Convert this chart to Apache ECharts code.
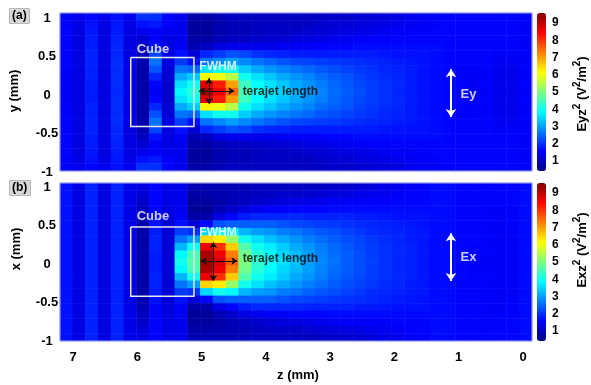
<!DOCTYPE html>
<html>
<head>
<meta charset="utf-8">
<script src="https://cdn.jsdelivr.net/npm/echarts@6/dist/echarts.min.js"></script>
<style>html,body{margin:0;padding:0;background:#fff}#c{width:591px;height:385px}</style>
</head>
<body>
<div id="c"></div>
<script>
// ---- data ----
const zCenters = [7.10,6.90,6.70,6.50,6.31,6.11,5.91,5.71,5.51,5.31,5.12,4.92,4.72,4.52,4.32,4.12,3.93,3.73,3.53,3.33,3.13,2.93,2.73,2.54,2.34,2.14,1.94,1.74,1.54,1.35,1.15,0.95,0.75,0.55,0.36,0.16,-0.04];
const yCenters = [0.99,0.89,0.79,0.69,0.59,0.50,0.40,0.30,0.20,0.10,0,-0.10,-0.20,-0.30,-0.40,-0.50,-0.59,-0.69,-0.79,-0.89,-0.99];
const zTickLabels = [0,1,2,3,4,5,6,7];
const yTickLabels = [-1,-0.5,0,0.5,1];
const colorTicks = [1,2,3,4,5,6,7,8,9];
const colorMin = 0.42, colorMax = 9.58;

// Panel (a): Eyz^2, rows from y=+0.99 (top) to y=-0.99 (bottom), columns z=7.1 ... -0.04
const eyzRows = [
[1.5,1.4,1.6,1.4,1.7,1.4,2.0,2.0,1.6,1.4,0.8,0.8,0.9,1.0,1.0, 1.0,1.0,1.0,1.0,1.0,1.05,1.1,1.1,1.15,1.2,1.25,1.3,1.4,1.45,1.5,1.55,1.6,1.6,1.6,1.6,1.6,1.55],
[1.55,1.35,1.7,1.35,1.75,1.35,1.7,1.8,1.5,1.4,0.7,0.7,0.85,0.95,0.95, 1.0,1.0,1.0,1.0,1.05,1.1,1.15,1.2,1.25,1.3,1.35,1.4,1.45,1.5,1.55,1.6,1.6,1.6,1.6,1.6,1.6,1.55],
[1.6,1.3,1.75,1.3,1.8,1.3,1.4,1.5,1.4,1.4,0.7,0.7,0.85,0.95,0.95, 1.0,1.05,1.05,1.1,1.15,1.2,1.25,1.3,1.35,1.4,1.45,1.5,1.5,1.55,1.6,1.6,1.6,1.6,1.6,1.6,1.6,1.55],
[1.6,1.3,1.8,1.3,1.85,1.3,1.2,1.5,1.3,1.4,0.75,0.75,0.9,1.0,1.05, 1.1,1.15,1.2,1.25,1.3,1.35,1.4,1.45,1.5,1.55,1.55,1.6,1.6,1.6,1.6,1.6,1.6,1.6,1.6,1.6,1.6,1.55],
[1.6,1.3,1.8,1.3,1.9,1.3,1.0,1.7,1.3,1.5,0.9,1.0,1.3,1.4,1.4, 1.4,1.4,1.45,1.5,1.5,1.55,1.6,1.6,1.65,1.65,1.65,1.65,1.65,1.65,1.65,1.6,1.6,1.6,1.6,1.6,1.6,1.55],
[1.6,1.3,1.85,1.3,1.9,1.3,0.9,2.2,1.3,1.7,1.2,1.9,2.1,2.3,2.2, 2.0,1.9,1.85,1.8,1.8,1.8,1.8,1.8,1.8,1.8,1.75,1.7,1.7,1.7,1.65,1.6,1.6,1.6,1.6,1.5,1.5,1.55],
[1.55,1.3,1.85,1.3,1.95,1.35,0.85,2.6,1.3,2.1,1.7,2.6,2.8,3.0,2.8, 2.6,2.45,2.3,2.2,2.15,2.1,2.05,2.0,1.95,1.9,1.85,1.8,1.75,1.7,1.65,1.6,1.6,1.6,1.55,1.45,1.45,1.55],
[1.55,1.3,1.85,1.3,1.95,1.35,0.8,2.3,1.2,2.6,2.5,3.6,4.0,4.0,3.4, 3.1,2.9,2.75,2.6,2.5,2.35,2.25,2.15,2.05,2.0,1.9,1.85,1.8,1.7,1.65,1.6,1.55,1.55,1.55,1.4,1.4,1.55],
[1.5,1.3,1.85,1.3,1.95,1.35,0.8,1.9,1.15,3.1,3.4,6.2,6.0,5.5,4.0, 3.6,3.35,3.1,2.9,2.75,2.55,2.4,2.3,2.15,2.05,1.95,1.9,1.8,1.7,1.65,1.6,1.55,1.5,1.55,1.4,1.4,1.55],
[1.5,1.3,1.8,1.3,1.95,1.35,0.8,1.6,1.1,3.6,4.0,8.7,8.2,7.0,4.4, 3.9,3.6,3.35,3.1,2.9,2.7,2.5,2.35,2.2,2.1,2.0,1.9,1.8,1.7,1.65,1.6,1.55,1.45,1.55,1.4,1.4,1.55],
[1.5,1.3,1.8,1.3,1.9,1.35,0.8,1.5,1.1,3.8,4.2,9.3,8.6,7.5,4.5, 4.0,3.7,3.45,3.2,2.95,2.75,2.55,2.4,2.25,2.1,2.0,1.9,1.8,1.7,1.65,1.6,1.55,1.45,1.55,1.4,1.4,1.55],
[1.5,1.3,1.8,1.3,1.95,1.35,0.8,1.6,1.1,3.6,4.0,8.7,8.2,7.0,4.4, 3.9,3.6,3.35,3.1,2.9,2.7,2.5,2.35,2.2,2.1,2.0,1.9,1.8,1.7,1.65,1.6,1.55,1.45,1.55,1.4,1.4,1.55],
[1.5,1.3,1.85,1.3,1.95,1.35,0.8,1.9,1.15,3.1,3.4,6.2,6.0,5.5,4.0, 3.6,3.35,3.1,2.9,2.75,2.55,2.4,2.3,2.15,2.05,1.95,1.9,1.8,1.7,1.65,1.6,1.55,1.5,1.55,1.4,1.4,1.55],
[1.55,1.3,1.85,1.3,1.95,1.35,0.8,2.3,1.2,2.6,2.5,3.6,4.0,4.0,3.4, 3.1,2.9,2.75,2.6,2.5,2.35,2.25,2.15,2.05,2.0,1.9,1.85,1.8,1.7,1.65,1.6,1.55,1.55,1.55,1.4,1.4,1.55],
[1.55,1.3,1.85,1.3,1.95,1.35,0.85,2.6,1.3,2.1,1.7,2.6,2.8,3.0,2.8, 2.6,2.45,2.3,2.2,2.15,2.1,2.05,2.0,1.95,1.9,1.85,1.8,1.75,1.7,1.65,1.6,1.6,1.6,1.55,1.45,1.45,1.55],
[1.6,1.3,1.85,1.3,1.9,1.3,0.9,2.2,1.3,1.7,1.2,1.9,2.1,2.3,2.2, 2.0,1.9,1.85,1.8,1.8,1.8,1.8,1.8,1.8,1.8,1.75,1.7,1.7,1.7,1.65,1.6,1.6,1.6,1.6,1.5,1.5,1.55],
[1.6,1.3,1.8,1.3,1.9,1.3,1.0,1.7,1.3,1.5,0.9,1.0,1.3,1.4,1.4, 1.4,1.4,1.45,1.5,1.5,1.55,1.6,1.6,1.65,1.65,1.65,1.65,1.65,1.65,1.65,1.6,1.6,1.6,1.6,1.6,1.6,1.55],
[1.6,1.3,1.8,1.3,1.85,1.3,1.2,1.5,1.3,1.4,0.75,0.75,0.9,1.0,1.05, 1.1,1.15,1.2,1.25,1.3,1.35,1.4,1.45,1.5,1.55,1.55,1.6,1.6,1.6,1.6,1.6,1.6,1.6,1.6,1.6,1.6,1.55],
[1.6,1.3,1.75,1.3,1.8,1.3,1.4,1.5,1.4,1.4,0.7,0.7,0.85,0.95,0.95, 1.0,1.05,1.05,1.1,1.15,1.2,1.25,1.3,1.35,1.4,1.45,1.5,1.5,1.55,1.6,1.6,1.6,1.6,1.6,1.6,1.6,1.55],
[1.55,1.35,1.7,1.35,1.75,1.35,1.7,1.8,1.5,1.4,0.7,0.7,0.85,0.95,0.95, 1.0,1.0,1.0,1.0,1.05,1.1,1.15,1.2,1.25,1.3,1.35,1.4,1.45,1.5,1.55,1.6,1.6,1.6,1.6,1.6,1.6,1.55],
[1.5,1.4,1.6,1.4,1.7,1.4,2.0,2.0,1.6,1.4,0.8,0.8,0.9,1.0,1.0, 1.0,1.0,1.0,1.0,1.0,1.05,1.1,1.1,1.15,1.2,1.25,1.3,1.4,1.45,1.5,1.55,1.6,1.6,1.6,1.6,1.6,1.55]
];

// Panel (b): Exz^2, rows from x=+0.99 (top) to x=-0.99 (bottom), columns z=7.1 ... -0.04
const exzRows = [
[1.7,1.35,1.85,1.3,1.85,1.35,1.3,1.6,1.35,1.4,0.9,0.9,0.9,0.9,0.95, 1.0,1.0,1.0,1.0,1.0,1.05,1.1,1.15,1.2,1.25,1.35,1.4,1.5,1.55,1.65,1.65,1.6,1.6,1.55,1.6,1.6,1.65],
[1.7,1.3,1.85,1.3,1.85,1.35,1.2,1.6,1.35,1.4,0.8,0.8,0.85,0.9,0.95, 1.0,1.05,1.1,1.1,1.15,1.2,1.25,1.3,1.35,1.4,1.45,1.5,1.55,1.6,1.65,1.65,1.6,1.6,1.55,1.6,1.6,1.65],
[1.7,1.3,1.85,1.3,1.85,1.35,1.1,1.6,1.35,1.4,0.7,0.7,0.8,0.95,1.0, 1.1,1.2,1.25,1.3,1.35,1.4,1.45,1.5,1.5,1.55,1.55,1.6,1.6,1.6,1.65,1.65,1.6,1.6,1.55,1.55,1.6,1.65],
[1.7,1.3,1.85,1.3,1.85,1.35,1.0,1.6,1.3,1.45,0.65,0.65,0.9,1.1,1.3, 1.4,1.5,1.5,1.6,1.6,1.6,1.65,1.65,1.65,1.65,1.65,1.65,1.65,1.65,1.65,1.65,1.6,1.6,1.55,1.55,1.55,1.65],
[1.7,1.3,1.85,1.3,1.85,1.35,0.9,1.6,1.25,1.5,0.8,0.8,1.3,1.6,1.8, 1.9,1.9,1.9,1.9,1.85,1.85,1.85,1.85,1.8,1.8,1.75,1.7,1.7,1.7,1.65,1.65,1.6,1.6,1.55,1.5,1.55,1.65],
[1.7,1.3,1.85,1.3,1.85,1.35,0.85,1.7,1.2,1.7,1.2,1.6,2.3,2.4,2.4, 2.4,2.4,2.3,2.2,2.15,2.1,2.05,2.0,1.95,1.9,1.85,1.8,1.75,1.7,1.65,1.65,1.6,1.6,1.55,1.5,1.55,1.65],
[1.7,1.3,1.85,1.3,1.85,1.35,0.8,1.8,1.2,2.1,2.0,3.5,4.0,3.8,3.2, 3.0,2.9,2.7,2.6,2.45,2.35,2.25,2.15,2.05,1.95,1.9,1.85,1.8,1.75,1.65,1.65,1.6,1.6,1.55,1.5,1.5,1.65],
[1.7,1.3,1.85,1.3,1.85,1.35,0.8,1.85,1.2,2.6,3.0,6.5,6.3,5.2,4.0, 3.6,3.3,3.1,2.9,2.7,2.55,2.4,2.25,2.15,2.05,1.95,1.9,1.8,1.75,1.65,1.65,1.6,1.6,1.55,1.5,1.5,1.65],
[1.7,1.3,1.85,1.3,1.85,1.35,0.8,1.85,1.2,3.2,4.0,8.6,8.0,6.6,4.6, 4.0,3.7,3.4,3.1,2.9,2.7,2.5,2.35,2.2,2.1,2.0,1.9,1.85,1.75,1.65,1.65,1.6,1.55,1.55,1.5,1.5,1.65],
[1.7,1.3,1.85,1.3,1.85,1.35,0.8,1.8,1.2,3.8,4.5,9.2,8.6,7.3,4.9, 4.2,3.85,3.5,3.25,3.0,2.75,2.55,2.4,2.25,2.1,2.0,1.9,1.85,1.75,1.65,1.65,1.6,1.55,1.55,1.5,1.5,1.65],
[1.7,1.3,1.85,1.3,1.85,1.35,0.8,1.8,1.2,4.0,4.6,9.3,8.8,7.6,5.0, 4.3,3.9,3.6,3.3,3.0,2.8,2.6,2.4,2.25,2.15,2.0,1.9,1.85,1.75,1.65,1.65,1.6,1.55,1.55,1.5,1.5,1.65],
[1.7,1.3,1.85,1.3,1.85,1.35,0.8,1.8,1.2,3.8,4.5,9.2,8.6,7.3,4.9, 4.2,3.85,3.5,3.25,3.0,2.75,2.55,2.4,2.25,2.1,2.0,1.9,1.85,1.75,1.65,1.65,1.6,1.55,1.55,1.5,1.5,1.65],
[1.7,1.3,1.85,1.3,1.85,1.35,0.8,1.85,1.2,3.2,4.0,8.6,8.0,6.6,4.6, 4.0,3.7,3.4,3.1,2.9,2.7,2.5,2.35,2.2,2.1,2.0,1.9,1.85,1.75,1.65,1.65,1.6,1.55,1.55,1.5,1.5,1.65],
[1.7,1.3,1.85,1.3,1.85,1.35,0.8,1.85,1.2,2.6,3.0,6.5,6.3,5.2,4.0, 3.6,3.3,3.1,2.9,2.7,2.55,2.4,2.25,2.15,2.05,1.95,1.9,1.8,1.75,1.65,1.65,1.6,1.6,1.55,1.5,1.5,1.65],
[1.7,1.3,1.85,1.3,1.85,1.35,0.8,1.8,1.2,2.1,2.0,3.5,4.0,3.8,3.2, 3.0,2.9,2.7,2.6,2.45,2.35,2.25,2.15,2.05,1.95,1.9,1.85,1.8,1.75,1.65,1.65,1.6,1.6,1.55,1.5,1.5,1.65],
[1.7,1.3,1.85,1.3,1.85,1.35,0.85,1.7,1.2,1.7,1.2,1.6,2.3,2.4,2.4, 2.4,2.4,2.3,2.2,2.15,2.1,2.05,2.0,1.95,1.9,1.85,1.8,1.75,1.7,1.65,1.65,1.6,1.6,1.55,1.5,1.55,1.65],
[1.7,1.3,1.85,1.3,1.85,1.35,0.9,1.6,1.25,1.5,0.8,0.8,1.3,1.6,1.8, 1.9,1.9,1.9,1.9,1.85,1.85,1.85,1.85,1.8,1.8,1.75,1.7,1.7,1.7,1.65,1.65,1.6,1.6,1.55,1.5,1.55,1.65],
[1.7,1.3,1.85,1.3,1.85,1.35,1.0,1.6,1.3,1.45,0.65,0.65,0.9,1.1,1.3, 1.4,1.5,1.5,1.6,1.6,1.6,1.65,1.65,1.65,1.65,1.65,1.65,1.65,1.65,1.65,1.65,1.6,1.6,1.55,1.55,1.55,1.65],
[1.7,1.3,1.85,1.3,1.85,1.35,1.1,1.6,1.35,1.4,0.7,0.7,0.8,0.95,1.0, 1.1,1.2,1.25,1.3,1.35,1.4,1.45,1.5,1.5,1.55,1.55,1.6,1.6,1.6,1.65,1.65,1.6,1.6,1.55,1.55,1.6,1.65],
[1.7,1.3,1.85,1.3,1.85,1.35,1.2,1.6,1.35,1.4,0.8,0.8,0.85,0.9,0.95, 1.0,1.05,1.1,1.1,1.15,1.2,1.25,1.3,1.35,1.4,1.45,1.5,1.55,1.6,1.65,1.65,1.6,1.6,1.55,1.6,1.6,1.65],
[1.7,1.35,1.85,1.3,1.85,1.35,1.3,1.6,1.35,1.4,0.9,0.9,0.9,0.9,0.95, 1.0,1.0,1.0,1.0,1.0,1.05,1.1,1.15,1.2,1.25,1.35,1.4,1.5,1.55,1.65,1.65,1.6,1.6,1.55,1.6,1.6,1.65]
];

// annotation geometry in data units (z mm, transverse mm)
const cubeA = [[6.10,0.455],[5.117,0.455],[5.117,-0.455],[6.10,-0.455],[6.10,0.455]];
const cubeB = [[6.10,0.46],[5.117,0.46],[5.117,-0.45],[6.10,-0.45],[6.10,0.46]];
const fwhmA = {h:[[5.04,0.013],[4.49,0.013]], v:[[4.883,0.184],[4.883,-0.158]]};
const fwhmB = {h:[[5.013,0.013],[4.443,0.013]], v:[[4.816,0.263],[4.816,-0.25]]};
const polA = [[1.12,0.30],[1.12,-0.33]];
const polB = [[1.12,0.38],[1.12,-0.25]];

// ---- build ----
const jet = ['#00007F','#0000FF','#007FFF','#00FFFF','#7FFF7F','#FFFF00','#FF7F00','#FF0000','#7F0000'];
const FONT = 'Arial, "Liberation Sans", Helvetica, sans-serif';
function toCells(rows){ const d=[]; rows.forEach((row,r)=>row.forEach((v,c)=>d.push([c,r,v]))); return d; }

const L=60, W=472, H=158, TA=13, TB=183;
const chart = echarts.init(document.getElementById('c'), null, {renderer:'canvas'});
const lab = {fontFamily:FONT, fontWeight:'bold', fontSize:12, color:'#000'};

function annotSeries(gi, cube, fw, pol, polText, polY, labY){
  const xa = 2+gi, ya = 2+gi;
  return [
    {type:'lines', coordinateSystem:'cartesian2d', xAxisIndex:xa, yAxisIndex:ya, polyline:true, silent:true, z:5,
     lineStyle:{color:'#e8e8e8', width:1.5, opacity:1}, symbol:'none', data:[{coords:cube}]},
    {type:'lines', coordinateSystem:'cartesian2d', xAxisIndex:xa, yAxisIndex:ya, silent:true, z:6,
     symbol:['arrow','arrow'], symbolSize:6, lineStyle:{color:'#111', width:1, opacity:1},
     data:[{coords:fw.h},{coords:fw.v}]},
    {type:'lines', coordinateSystem:'cartesian2d', xAxisIndex:xa, yAxisIndex:ya, silent:true, z:6,
     symbol:['arrow','arrow'], symbolSize:8, lineStyle:{color:'#fff', width:2, opacity:1},
     data:[{coords:pol}]},
    {type:'scatter', xAxisIndex:xa, yAxisIndex:ya, symbolSize:0, silent:true, z:7,
     data:[
      {name:'Cube', value:[5.754, labY.cube], label:{show:true, position:'inside', formatter:'{b}', color:'#fff', fontFamily:FONT, fontWeight:'bold', fontSize:13}},
      {name:'FWHM', value:[4.743, labY.fwhm], label:{show:true, position:'inside', formatter:'{b}', color:'#fff', fontFamily:FONT, fontWeight:'bold', fontSize:12}},
      {name:'terajet length', value:[4.36, labY.tl], label:{show:true, position:'right', distance:0, formatter:'{b}', color:'#000', fontFamily:FONT, fontWeight:'bold', fontSize:12}},
      {name:polText, value:[0.848, polY], label:{show:true, position:'inside', formatter:'{b}', color:'#fff', fontFamily:FONT, fontWeight:'bold', fontSize:13}}
     ]}
  ];
}

const option = {
  animation:false,
  backgroundColor:'#fff',
  title:[
    {text:'(a)', left:9, top:8, padding:[2,3], backgroundColor:'#d8d8d8', borderColor:'#b8b8b8', borderWidth:1,
     textStyle:{fontFamily:FONT, fontWeight:'bold', fontSize:12, color:'#000', lineHeight:12}},
    {text:'(b)', left:9, top:180, padding:[2,3], backgroundColor:'#d8d8d8', borderColor:'#b8b8b8', borderWidth:1,
     textStyle:{fontFamily:FONT, fontWeight:'bold', fontSize:12, color:'#000', lineHeight:12}}
  ],
  grid:[
    {left:L, top:TA, width:W, height:H},
    {left:L, top:TB, width:W, height:H},
    {left:L, top:18, width:W, height:154},
    {left:L, top:187, width:W, height:154},
    {left:73, top:TB, width:450, height:H},
    {left:537, top:TA-0.42*17.25, width:9, height:172.5},
    {left:537, top:TB-0.42*17.25, width:9, height:172.5}
  ],
  xAxis:[
    {type:'category', gridIndex:0, data:zCenters, show:false},
    {type:'category', gridIndex:1, data:zCenters, show:false},
    {type:'value', gridIndex:0, min:-0.14, max:7.2, inverse:true, show:false},
    {type:'value', gridIndex:1, min:-0.14, max:7.2, inverse:true, show:false},
    {type:'value', gridIndex:2, min:0, max:1, show:false},
    {type:'value', gridIndex:3, min:0, max:1, show:false},
    {type:'value', gridIndex:4, min:zTickLabels[0], max:zTickLabels[zTickLabels.length-1], interval:1, inverse:true,
     axisLine:{show:false}, axisTick:{show:false}, splitLine:{show:false},
     axisLabel:Object.assign({}, lab, {margin:10, fontSize:13}),
     name:'z (mm)', nameLocation:'middle', nameGap:28, nameTextStyle:Object.assign({}, lab, {fontSize:13})},
    {type:'value', gridIndex:5, min:0, max:1, show:false},
    {type:'value', gridIndex:6, min:0, max:1, show:false}
  ],
  yAxis:[
    {type:'category', gridIndex:0, data:yCenters, inverse:true, show:false},
    {type:'category', gridIndex:1, data:yCenters, inverse:true, show:false},
    {type:'value', gridIndex:0, min:-1.04, max:1.04, show:false},
    {type:'value', gridIndex:1, min:-1.04, max:1.04, show:false},
    {type:'value', gridIndex:2, min:yTickLabels[0], max:yTickLabels[yTickLabels.length-1], interval:0.5,
     axisLine:{show:false}, axisTick:{show:false}, splitLine:{show:false},
     axisLabel:Object.assign({}, lab, {margin:13, align:'center', fontSize:13})},
    {type:'value', gridIndex:3, min:yTickLabels[0], max:yTickLabels[yTickLabels.length-1], interval:0.5,
     axisLine:{show:false}, axisTick:{show:false}, splitLine:{show:false},
     axisLabel:Object.assign({}, lab, {margin:13, align:'center', fontSize:13})},
    {type:'value', gridIndex:4, min:0, max:1, show:false},
    {type:'value', gridIndex:5, min:0, max:10, interval:1, position:'right',
     axisLine:{show:false}, axisTick:{show:false}, splitLine:{show:false},
     axisLabel:Object.assign({}, lab, {margin:6, formatter:v=>colorTicks.indexOf(v)>=0?String(v):''})},
    {type:'value', gridIndex:6, min:0, max:10, interval:1, position:'right',
     axisLine:{show:false}, axisTick:{show:false}, splitLine:{show:false},
     axisLabel:Object.assign({}, lab, {margin:6, formatter:v=>colorTicks.indexOf(v)>=0?String(v):''})}
  ],
  visualMap:[
    {type:'continuous', seriesIndex:0, min:colorMin, max:colorMax, left:537, top:TA, itemWidth:9, itemHeight:H,
     padding:0, calculable:false, hoverLink:false, text:null, inRange:{color:jet}},
    {type:'continuous', seriesIndex:1, min:colorMin, max:colorMax, left:537, top:TB, itemWidth:9, itemHeight:H,
     padding:0, calculable:false, hoverLink:false, text:null, inRange:{color:jet}}
  ],
  series:[
    {type:'heatmap', xAxisIndex:0, yAxisIndex:0, data:toCells(eyzRows), silent:true, itemStyle:{borderWidth:0}, progressive:0},
    {type:'heatmap', xAxisIndex:1, yAxisIndex:1, data:toCells(exzRows), silent:true, itemStyle:{borderWidth:0}, progressive:0},
    ...annotSeries(0, cubeA, fwhmA, polA, 'Ey', -0.026, {cube:0.566, fwhm:0.33, tl:0.007}),
    ...annotSeries(1, cubeB, fwhmB, polB, 'Ex', 0.066, {cube:0.60, fwhm:0.39, tl:0.046})
  ],
  graphic:[
    {type:'rect', shape:{x:L, y:TA, width:W, height:H}, style:{fill:'none', stroke:'#a9b0ec', lineWidth:1}, z:100, silent:true},
    {type:'rect', shape:{x:L, y:TB, width:W, height:H}, style:{fill:'none', stroke:'#a9b0ec', lineWidth:1}, z:100, silent:true},
    {type:'text', x:14, y:91, rotation:Math.PI/2, silent:true,
     style:{text:'y (mm)', fill:'#000', font:'bold 13px '+FONT, textAlign:'center', textVerticalAlign:'middle'}},
    {type:'text', x:16, y:249, rotation:Math.PI/2, silent:true,
     style:{text:'x (mm)', fill:'#000', font:'bold 13px '+FONT, textAlign:'center', textVerticalAlign:'middle'}},
    {type:'text', x:582, y:94, rotation:Math.PI/2, silent:true,
     style:{text:'Eyz{s|2} (V{s|2}/m{s|2})', fill:'#000', font:'bold 13px '+FONT, textAlign:'center', textVerticalAlign:'middle',
       rich:{s:{fontSize:10, fontWeight:'bold', fontFamily:FONT, verticalAlign:'top', lineHeight:20, fill:'#000'}}}},
    {type:'text', x:582, y:250, rotation:Math.PI/2, silent:true,
     style:{text:'Exz{s|2} (V{s|2}/m{s|2})', fill:'#000', font:'bold 13px '+FONT, textAlign:'center', textVerticalAlign:'middle',
       rich:{s:{fontSize:10, fontWeight:'bold', fontFamily:FONT, verticalAlign:'top', lineHeight:20, fill:'#000'}}}}
  ]
};
chart.setOption(option);
</script>
</body>
</html>
